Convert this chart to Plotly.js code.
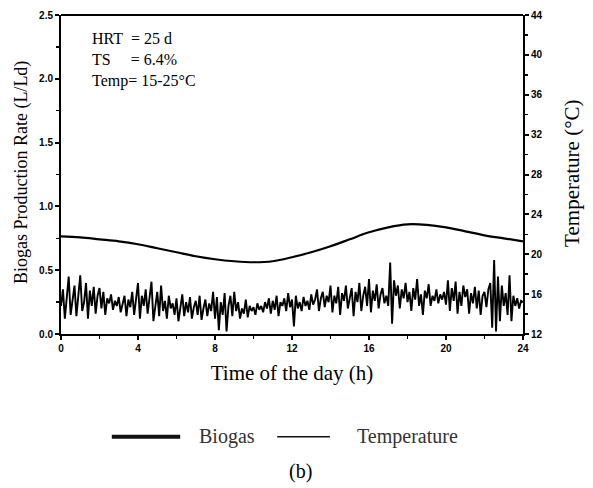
<!DOCTYPE html>
<html>
<head>
<meta charset="utf-8">
<script src="https://cdn.plot.ly/plotly-3.0.1.min.js"></script>
<style>html,body{margin:0;padding:0;background:#fff;}#chart{width:593px;height:488px;}</style>
</head>
<body>
<div id="chart"></div>
<script>
// Temperature (°C), right axis
const tempHours = [0,1,2,3,4,5,6,7,8,9,10,11,12,13,14,15,16,17,18,19,20,21,22,23,24];
const tempValues = [21.8,21.7,21.5,21.3,21.0,20.6,20.2,19.8,19.5,19.3,19.2,19.3,19.7,20.2,20.8,21.5,22.2,22.7,23.0,22.95,22.7,22.3,21.9,21.6,21.3];

// Biogas production rate (L/Ld), sampled every 0.1 h, left axis
const biogasStartHour = 0;
const biogasStepHour = 0.1;
const biogasValues = [
  0.22,0.35,0.12,0.30,0.45,0.15,0.28,0.38,0.14,0.33,
  0.46,0.18,0.25,0.40,0.12,0.34,0.22,0.37,0.16,0.30,
  0.36,0.20,0.33,0.15,0.28,0.24,0.31,0.19,0.26,0.22,
  0.29,0.17,0.25,0.30,0.14,0.27,0.21,0.33,0.15,0.28,
  0.40,0.12,0.30,0.22,0.35,0.16,0.27,0.41,0.10,0.24,
  0.33,0.14,0.38,0.18,0.26,0.12,0.30,0.20,0.24,0.15,
  0.28,0.10,0.22,0.31,0.14,0.25,0.17,0.29,0.12,0.21,
  0.26,0.15,0.30,0.11,0.20,0.27,0.14,0.24,0.18,0.33,
  0.12,0.29,0.03,0.25,0.15,0.32,0.02,0.22,0.30,0.14,
  0.33,0.18,0.25,0.12,0.20,0.16,0.27,0.13,0.22,0.18,
  0.21,0.15,0.24,0.19,0.22,0.17,0.25,0.20,0.28,0.16,
  0.26,0.19,0.30,0.14,0.25,0.22,0.28,0.18,0.32,0.21,
  0.27,0.06,0.30,0.20,0.25,0.18,0.29,0.22,0.26,0.19,
  0.31,0.23,0.27,0.35,0.18,0.28,0.33,0.21,0.30,0.25,
  0.38,0.17,0.30,0.24,0.37,0.15,0.32,0.26,0.38,0.20,
  0.28,0.36,0.14,0.33,0.25,0.40,0.18,0.30,0.37,0.22,
  0.43,0.17,0.34,0.26,0.39,0.20,0.31,0.36,0.24,0.30,
  0.22,0.56,0.08,0.42,0.30,0.38,0.20,0.35,0.28,0.40,
  0.25,0.33,0.18,0.36,0.27,0.43,0.22,0.31,0.15,0.34,
  0.28,0.39,0.22,0.30,0.26,0.35,0.24,0.31,0.27,0.33,
  0.23,0.42,0.18,0.36,0.26,0.41,0.16,0.33,0.22,0.38,
  0.29,0.35,0.16,0.32,0.24,0.37,0.20,0.34,0.15,0.30,
  0.33,0.21,0.35,0.40,0.05,0.58,0.02,0.45,0.10,0.38,
  0.22,0.32,0.15,0.46,0.10,0.30,0.22,0.28,0.20,0.26,
  0.25
];
const biogasHours = biogasValues.map((v, i) => +(biogasStartHour + i * biogasStepHour).toFixed(2));

const xTickVals = [0,4,8,12,16,20,24];
const yLeftTickVals = [0,0.5,1.0,1.5,2.0,2.5];
const yLeftTickText = ['0.0','0.5','1.0','1.5','2.0','2.5'];
const yRightTickVals = [12,16,20,24,28,32,36,40,44];

const legendLabels = ['Biogas', 'Temperature'];
const infoLines = ['HRT&nbsp;&nbsp;= 25 d', 'TS&nbsp;&nbsp;&nbsp;&nbsp;&nbsp;= 6.4%', 'Temp= 15-25°C'];

const serif = 'Liberation Serif, Times New Roman, serif';
const tickFont = {family: 'Liberation Sans, Arial, sans-serif', size: 10, color: '#000'};
const bold = arr => arr.map(t => '<b>' + t + '</b>');

const traces = [
  {x: biogasHours, y: biogasValues, type: 'scatter', mode: 'lines', name: legendLabels[0],
   line: {color: '#000', width: 1.9}, xaxis: 'x', yaxis: 'y', showlegend: false},
  {x: tempHours, y: tempValues, type: 'scatter', mode: 'lines', name: legendLabels[1],
   line: {color: '#000', width: 2.2, shape: 'spline'}, xaxis: 'x', yaxis: 'y2', showlegend: false}
];

const axisCommon = {
  showgrid: false, zeroline: false, showline: true, linecolor: '#000', linewidth: 2,
  ticks: 'outside', ticklen: 4, tickwidth: 2, tickcolor: '#000', tickfont: tickFont
};

const layout = {
  width: 593, height: 488,
  margin: {l: 61, r: 70, t: 15, b: 154},
  paper_bgcolor: '#fff', plot_bgcolor: '#fff',
  showlegend: false,
  xaxis: Object.assign({}, axisCommon, {
    range: [0, 24], tickvals: xTickVals, ticktext: bold(xTickVals.map(String)),
    minor: {ticks: 'outside', ticklen: 3, tickwidth: 1.5, tickcolor: '#000', dtick: 2, tick0: 0},
    title: {text: 'Time of the day (h)', font: {family: serif, size: 21, color: '#000'}, standoff: 12}
  }),
  yaxis: Object.assign({}, axisCommon, {
    range: [0, 2.5], tickvals: yLeftTickVals, ticktext: bold(yLeftTickText),
    minor: {ticks: 'outside', ticklen: 3, tickwidth: 1.5, tickcolor: '#000', dtick: 0.25, tick0: 0}
  }),
  yaxis2: Object.assign({}, axisCommon, {
    range: [12, 44], tickvals: yRightTickVals, ticktext: bold(yRightTickVals.map(String)),
    overlaying: 'y', side: 'right',
    minor: {ticks: 'outside', ticklen: 3, tickwidth: 1.5, tickcolor: '#000', dtick: 2, tick0: 12}
  }),
  shapes: [
    // top frame line
    {type: 'line', xref: 'paper', yref: 'paper', x0: 0, x1: 1, y0: 1, y1: 1, line: {color: '#000', width: 2}},
    // legend samples
    {type: 'line', xref: 'paper', yref: 'paper', x0: 0.11, x1: 0.258, y0: -0.322, y1: -0.322, line: {color: '#111', width: 4}},
    {type: 'line', xref: 'paper', yref: 'paper', x0: 0.468, x1: 0.582, y0: -0.322, y1: -0.322, line: {color: '#111', width: 1.5}}
  ],
  annotations: [
    {text: infoLines.join('<br>'), xref: 'paper', yref: 'paper', x: 0.063, y: 0.96, xanchor: 'left', yanchor: 'top',
     align: 'left', showarrow: false, font: {family: serif, size: 16, color: '#000'}},
    {text: 'Biogas Production Rate (L/Ld)', xref: 'paper', yref: 'paper', x: -0.084, y: 0.505, xanchor: 'center', yanchor: 'middle',
     textangle: -90, showarrow: false, font: {family: serif, size: 18, color: '#000'}},
    {text: 'Temperature (°C)', xref: 'paper', yref: 'paper', x: 1.106, y: 0.505, xanchor: 'center', yanchor: 'middle',
     textangle: -90, showarrow: false, font: {family: serif, size: 21, color: '#000'}},
    {text: legendLabels[0], xref: 'paper', yref: 'paper', x: 0.294, y: -0.322, xanchor: 'left', yanchor: 'middle',
     showarrow: false, font: {family: serif, size: 20, color: '#333'}},
    {text: legendLabels[1], xref: 'paper', yref: 'paper', x: 0.636, y: -0.322, xanchor: 'left', yanchor: 'middle',
     showarrow: false, font: {family: serif, size: 20, color: '#333'}},
    {text: '(b)', xref: 'paper', yref: 'paper', x: 0.5177, y: -0.43, xanchor: 'center', yanchor: 'middle',
     showarrow: false, font: {family: serif, size: 20, color: '#000'}}
  ]
};

Plotly.newPlot('chart', traces, layout, {displayModeBar: false, staticPlot: true});
</script>
</body>
</html>
